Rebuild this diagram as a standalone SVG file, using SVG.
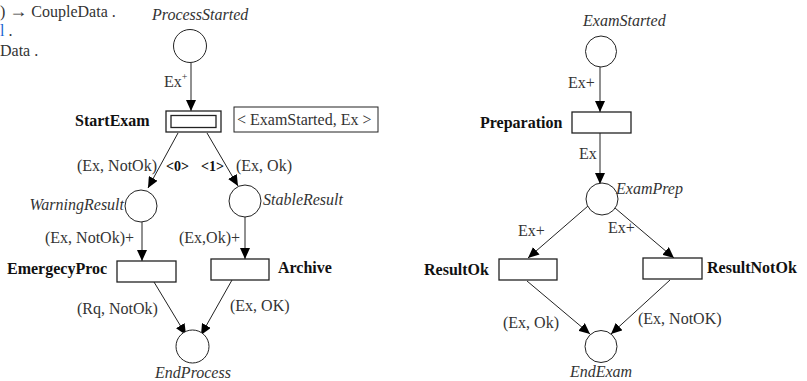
<svg xmlns="http://www.w3.org/2000/svg" width="807" height="381" viewBox="0 0 807 381">
<style>
text{font-family:"Liberation Serif","Times New Roman",serif;font-size:16px;fill:#333}
.b{font-weight:bold;fill:#111}
.i{font-style:italic}
.p{fill:#fff;stroke:#222;stroke-width:1}
.t{fill:#fff;stroke:#222;stroke-width:1.3}
.a{stroke:#222;stroke-width:1;fill:none;marker-end:url(#ah)}
</style>
<defs>
<marker id="ah" markerUnits="userSpaceOnUse" markerWidth="11" markerHeight="10" refX="11" refY="5" orient="auto">
<path d="M0,0 L11,5 L0,10 z" fill="#000"/>
</marker>
</defs>
<g id="header">
<text x="0" y="17">) <tspan font-size="18">→</tspan> CoupleData .</text>
<text x="0" y="36"><tspan fill="#1a5fd0">l</tspan> .</text>
<text x="0" y="56">Data .</text>
</g>
<g id="connectors">
<line class="a" x1="191" y1="63" x2="191" y2="111"/>
<line class="a" x1="178" y1="133" x2="148" y2="188"/>
<line class="a" x1="207" y1="133" x2="238" y2="186"/>
<line class="a" x1="142" y1="222" x2="142" y2="261"/>
<line class="a" x1="245" y1="217" x2="245" y2="259"/>
<line class="a" x1="154" y1="282" x2="186" y2="335"/>
<line class="a" x1="232" y1="280" x2="201" y2="335"/>
<line class="a" x1="600" y1="67" x2="600" y2="112"/>
<line class="a" x1="600" y1="133" x2="600" y2="184"/>
<line class="a" x1="588" y1="206" x2="528" y2="258"/>
<line class="a" x1="615" y1="208" x2="674" y2="258"/>
<line class="a" x1="527" y1="281" x2="590" y2="334"/>
<line class="a" x1="670" y1="280" x2="611" y2="334"/>
<text x="164" y="87">Ex<tspan font-size="10" dy="-7">+</tspan></text>
<text x="77" y="171">(Ex, NotOk)</text>
<text x="166" y="171" class="b" style="font-size:14px">&lt;0&gt;</text>
<text x="201" y="171" class="b" style="font-size:14px">&lt;1&gt;</text>
<text x="236" y="171">(Ex, Ok)</text>
<text x="45" y="243">(Ex, NotOk)+</text>
<text x="179" y="243">(Ex,Ok)+</text>
<text x="77" y="314">(Rq, NotOk)</text>
<text x="230" y="311">(Ex, OK)</text>
<text x="568" y="88">Ex+</text>
<text x="579" y="159">Ex</text>
<text x="518" y="236">Ex+</text>
<text x="608" y="233">Ex+</text>
<text x="503" y="328">(Ex, Ok)</text>
<text x="638" y="324">(Ex, NotOK)</text>
</g>
<g id="ProcessStarted">
<circle class="p" cx="190" cy="46" r="16.5"/>
<text class="i" x="152" y="20">ProcessStarted</text>
</g>
<g id="StartExam">
<rect class="t" x="166" y="111" width="55" height="21" stroke-width="2"/>
<rect class="t" x="171" y="115.5" width="45" height="12" stroke-width="2.2"/>
<text class="b" x="75" y="126">StartExam</text>
</g>
<g id="StartExamLabel">
<rect x="234" y="107" width="144" height="25" fill="#fff" stroke="#222" stroke-width="1"/>
<text x="237" y="125">&lt; ExamStarted, Ex &gt;</text>
</g>
<g id="WarningResult">
<circle class="p" cx="141" cy="206" r="16"/>
<text class="i" x="124" y="210" text-anchor="end">WarningResult</text>
</g>
<g id="StableResult">
<circle class="p" cx="245" cy="201" r="16"/>
<text class="i" x="263" y="205">StableResult</text>
</g>
<g id="EmergecyProc">
<rect class="t" x="117" y="261" width="59" height="21"/>
<text class="b" x="7" y="274">EmergecyProc</text>
</g>
<g id="Archive">
<rect class="t" x="211" y="259" width="58" height="21"/>
<text class="b" x="278" y="273">Archive</text>
</g>
<g id="EndProcess">
<circle class="p" cx="192.5" cy="346.5" r="16.5"/>
<text class="i" x="193" y="378" text-anchor="middle">EndProcess</text>
</g>
<g id="ExamStarted">
<circle class="p" cx="601" cy="51.5" r="15.5"/>
<text class="i" x="583" y="26">ExamStarted</text>
</g>
<g id="Preparation">
<rect class="t" x="572" y="112" width="59" height="21"/>
<text class="b" x="480" y="128">Preparation</text>
</g>
<g id="ExamPrep">
<circle class="p" cx="602" cy="199" r="16"/>
<text class="i" x="616" y="194">ExamPrep</text>
</g>
<g id="ResultOk">
<rect class="t" x="499" y="259" width="58" height="21"/>
<text class="b" x="424" y="275">ResultOk</text>
</g>
<g id="ResultNotOk">
<rect class="t" x="643" y="258" width="59" height="21"/>
<text class="b" x="707" y="273">ResultNotOk</text>
</g>
<g id="EndExam">
<circle class="p" cx="601" cy="346.5" r="16"/>
<text class="i" x="601" y="377" text-anchor="middle">EndExam</text>
</g>
</svg>
